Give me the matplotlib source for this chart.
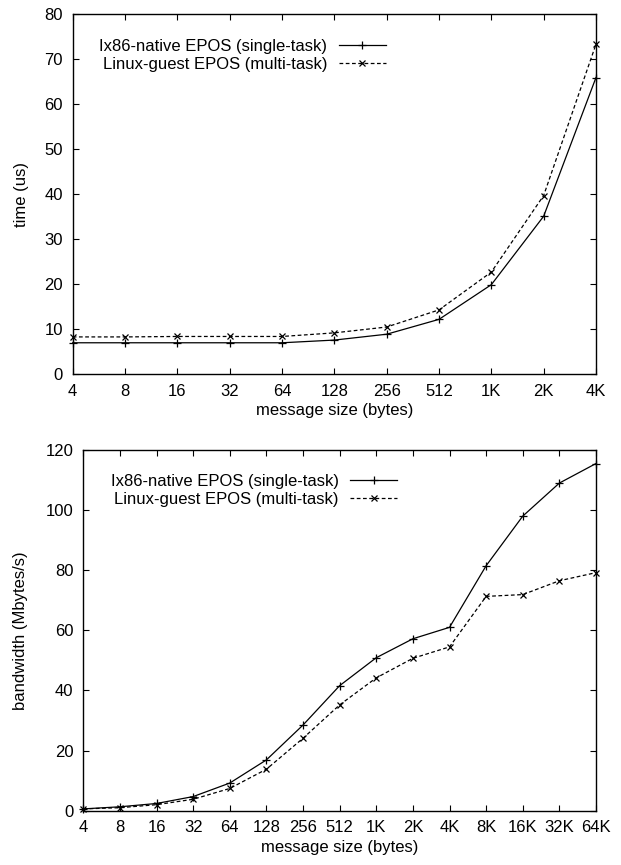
import numpy as np
import matplotlib
matplotlib.use("Agg")
import matplotlib.pyplot as plt

plt.rcParams["font.family"] = ["Liberation Sans", "DejaVu Sans"]
plt.rcParams["font.size"] = 12

# ============================================================
# Data
# ============================================================

time_labels = ["4", "8", "16", "32", "64", "128", "256", "512", "1K", "2K", "4K"]
time_native = [7.0, 7.0, 7.0, 7.0, 7.0, 7.6, 8.9, 12.2, 19.9, 35.1, 65.9]
time_guest = [8.3, 8.3, 8.4, 8.4, 8.4, 9.2, 10.5, 14.3, 22.7, 39.7, 73.3]

bw_labels = ["4", "8", "16", "32", "64", "128", "256", "512", "1K", "2K",
             "4K", "8K", "16K", "32K", "64K"]
bw_native = [0.6, 1.3, 2.4, 4.7, 9.2, 16.9, 28.5, 41.6, 50.9, 57.2,
             61.0, 81.5, 98.0, 109.0, 115.5]
bw_guest = [0.6, 1.0, 2.0, 3.8, 7.4, 13.8, 24.1, 35.2, 44.2, 50.7,
            54.5, 71.3, 71.9, 76.5, 79.2]

label_native = "Ix86-native EPOS (single-task)"
label_guest = "Linux-guest EPOS (multi-task)"

# ============================================================
# Figure
# ============================================================

W, H = 621, 865
fig = plt.figure(figsize=(W / 100, H / 100), dpi=100)


def make_axes(px_left, px_right, px_top, px_bottom):
    return fig.add_axes([
        px_left / W,
        1 - px_bottom / H,
        (px_right - px_left) / W,
        (px_bottom - px_top) / H,
    ])


def style_axes(ax):
    ax.tick_params(direction="in", top=True, right=True, length=4,
                   width=0.8, pad=7)
    for s in ax.spines.values():
        s.set_linewidth(1.0)


def draw(ax, labels, native, guest, ymax, ystep, ylabel, anchor):
    x = np.arange(len(labels))
    ax.plot(x, native, color="black", linewidth=0.9, marker="+",
            markersize=6, markeredgewidth=0.9, label=label_native,
            clip_on=False)
    ax.plot(x, guest, color="black", linewidth=0.9, linestyle=(0, (3, 2)),
            marker="x", markersize=5, markeredgewidth=0.9, label=label_guest,
            clip_on=False)
    ax.set_xlim(0, len(labels) - 1)
    ax.set_ylim(0, ymax)
    ax.set_xticks(x)
    ax.set_xticklabels(labels)
    ax.set_yticks(np.arange(0, ymax + 1, ystep))
    ax.set_xlabel("message size (bytes)", labelpad=3)
    ax.set_ylabel(ylabel)
    style_axes(ax)
    ax.legend(loc="upper right", bbox_to_anchor=anchor, frameon=False,
              markerfirst=False, numpoints=1, handlelength=2.8,
              handletextpad=0.7, labelspacing=0.15, borderpad=0,
              borderaxespad=0)


ax1 = make_axes(72.7, 596, 14, 374.3)
draw(ax1, time_labels, time_native, time_guest, 80, 10, "time (us)",
     (0.598, 0.93))

ax2 = make_axes(83.3, 596, 450, 810.7)
draw(ax2, bw_labels, bw_native, bw_guest, 120, 20, "bandwidth (Mbytes/s)",
     (0.612, 0.933))

ax1.yaxis.set_label_coords(-0.083, 0.5)
ax2.yaxis.set_label_coords(-0.108, 0.5)

fig.savefig("out.png", dpi=100)
